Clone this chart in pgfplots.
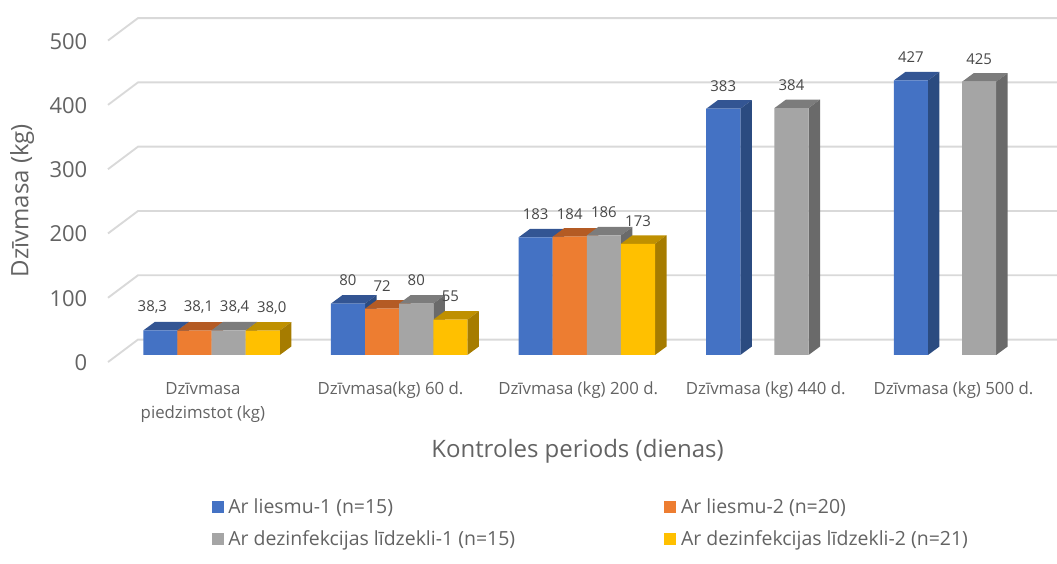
\documentclass[border=0pt]{standalone}
\usepackage{fontspec}
\setmainfont{Open Sans}
\usepackage{pgfplots}
\usepackage{pgfplotstable}
\pgfplotsset{compat=1.18}
% 1 px of the reference = 0.75pt here

\definecolor{cA}{HTML}{4472C4}\definecolor{cAt}{HTML}{335593}\definecolor{cAs}{HTML}{2B4B80}
\definecolor{cB}{HTML}{ED7D31}\definecolor{cBt}{HTML}{B45B24}\definecolor{cBs}{HTML}{A04F1E}
\definecolor{cC}{HTML}{A5A5A5}\definecolor{cCt}{HTML}{7C7C7C}\definecolor{cCs}{HTML}{6A6A6A}
\definecolor{cD}{HTML}{FFC000}\definecolor{cDt}{HTML}{BF9000}\definecolor{cDs}{HTML}{A67C00}
\definecolor{txt}{HTML}{636363}
\definecolor{gridc}{HTML}{D9D9D9}

\pgfplotstableread{
x y lab
0 38.3 38,3
1 80 80
2 183 183
3 383 383
4 427 427
}\seriesA
\pgfplotstableread{
x y lab
0 38.1 38,1
1 72 72
2 184 184
}\seriesB
\pgfplotstableread{
x y lab
0 38.4 38,4
1 80 80
2 186 186
3 384 384
4 425 425
}\seriesC
\pgfplotstableread{
x y lab
0 38.0 38,0
1 55 55
2 173 173
}\seriesD

\def\barw{0.18177}
\def\depx{0.0613}
\def\depy{13.2}

% top and side faces of one series; #2 = slot offset in bar widths
\newcommand\barfaces[4]{%
  \pgfplotstablegetrowsof{#1}%
  \pgfmathtruncatemacro\lastrow{\pgfplotsretval-1}%
  \pgfplotsforeachungrouped \r in {0,...,\lastrow}{%
    \pgfplotstablegetelem{\r}{x}\of{#1}\let\cx\pgfplotsretval
    \pgfplotstablegetelem{\r}{y}\of{#1}\let\cy\pgfplotsretval
    \pgfmathsetmacro\xa{\cx+(#2-0.5)*\barw}%
    \pgfmathsetmacro\xb{\cx+(#2+0.5)*\barw}%
    \pgfmathsetmacro\xc{\xa+\depx}%
    \pgfmathsetmacro\xd{\xb+\depx}%
    \pgfmathsetmacro\yt{\cy+\depy}%
    \addplot[fill=#3,draw=none,forget plot] coordinates {(\xa,\cy)(\xb,\cy)(\xd,\yt)(\xc,\yt)} --cycle;
    \addplot[fill=#4,draw=none,forget plot] coordinates {(\xb,0)(\xd,\depy)(\xd,\yt)(\xb,\cy)} --cycle;
  }%
}

\pgfplotsset{
  swatch/.style={legend image code/.code={\fill[##1,draw=none] (0pt,-4.5pt) rectangle (9pt,4.5pt);}},
  front/.style={ybar,bar width=25.6pt,bar shift=#1,draw=none,swatch},
  barlabels/.style 2 args={ybar,bar width=25.6pt,bar shift=#1,draw=none,fill=none,forget plot,
    nodes near coords,point meta=explicit symbolic,
    every node near coord/.append style={anchor=center,yshift=17.25pt,xshift=#1,
      font=\fontsize{11.2pt}{14pt}\selectfont,text=black!72},
    coordinate style/.condition={\coordindex==0}{xshift=#2}},
}

\begin{document}
\begin{tikzpicture}
\path[use as bounding box] (0,0) rectangle (792.75pt,423pt);
\begin{axis}[
  at={(81pt,156.75pt)},anchor=south west,
  scale only axis,width=711.75pt,height=241.125pt,
  xmin=-0.552,xmax=4.506,ymin=0,ymax=500,
  clip=false,
  axis line style={draw=none},
  major tick length=0pt,
  xtick pos=bottom,ytick pos=left,
  xtick={0,1,2,3,4},
  xticklabels={{Dzīvmasa\\piedzimstot (kg)},{Dzīvmasa(kg) 60 d.},{Dzīvmasa (kg) 200 d.},{Dzīvmasa (kg) 440 d.},{Dzīvmasa (kg) 500 d.}},
  ytick={0,100,200,300,400,500},
  /pgf/number format/assume math mode=true,
  x tick label style={align=center,anchor=north,xshift=-6.5pt,yshift=-16.75pt,text=txt,
    font=\fontsize{12.6pt}{18pt}\selectfont},
  y tick label style={anchor=east,xshift=-12pt,yshift=-5.75pt,text=txt,
    font=\fontsize{16.5pt}{18pt}\selectfont},
  xlabel={Kontroles periods (dienas)},
  ylabel={Dzīvmasa (kg)},
  every axis x label/.style={at={(axis description cs:0.4947,-0.2985)},anchor=center,text=txt,
    font=\fontsize{18pt}{20pt}\selectfont},
  every axis y label/.style={at={(axis description cs:-0.0905,0.48)},rotate=90,anchor=center,text=txt,
    font=\fontsize{18pt}{20pt}\selectfont},
  legend columns=2,
  legend cell align=left,
  legend style={at={(0.109,-0.4386)},anchor=north west,draw=none,fill=none,inner sep=0pt,
    text=txt,font=\fontsize{14.6pt}{16pt}\selectfont,
    row sep=7.2pt,
    /tikz/column 1/.style={column sep=1.5pt},
    /tikz/column 2/.style={column sep=110pt},
    /tikz/column 3/.style={column sep=1.5pt}},
]
% grid: floor edge on the left, back wall to the right
\pgfplotsinvokeforeach{0,100,200,300,400,500}{
  \pgfmathsetmacro\gf{#1-11}
  \pgfmathsetmacro\gb{#1+24}
  \addplot[gridc,line width=1.4pt,forget plot] coordinates {(-0.552,\gf)(-0.392,\gb)(4.506,\gb)};
}
\barfaces{\seriesA}{-1.5}{cAt}{cAs}
\barfaces{\seriesB}{-0.5}{cBt}{cBs}
\barfaces{\seriesC}{0.5}{cCt}{cCs}
\barfaces{\seriesD}{1.5}{cDt}{cDs}
\addplot[front=-38.4pt,fill=cA] table[x=x,y=y]{\seriesA};
\addlegendentry{Ar liesmu-1 (n=15)}
\addplot[front=-12.8pt,fill=cB] table[x=x,y=y]{\seriesB};
\addlegendentry{Ar liesmu-2 (n=20)}
\addplot[front=12.8pt,fill=cC] table[x=x,y=y]{\seriesC};
\addlegendentry{Ar dezinfekcijas līdzekli-1 (n=15)}
\addplot[front=38.4pt,fill=cD] table[x=x,y=y]{\seriesD};
\addlegendentry{Ar dezinfekcijas līdzekli-2 (n=21)}
\addplot[barlabels={-38.4pt}{-6pt}] table[x=x,y=y,meta=lab]{\seriesA};
\addplot[barlabels={-12.8pt}{3pt}] table[x=x,y=y,meta=lab]{\seriesB};
\addplot[barlabels={12.8pt}{4.5pt}] table[x=x,y=y,meta=lab]{\seriesC};
\addplot[barlabels={38.4pt}{6.75pt}] table[x=x,y=y,meta=lab]{\seriesD};
\end{axis}
\end{tikzpicture}
\end{document}
